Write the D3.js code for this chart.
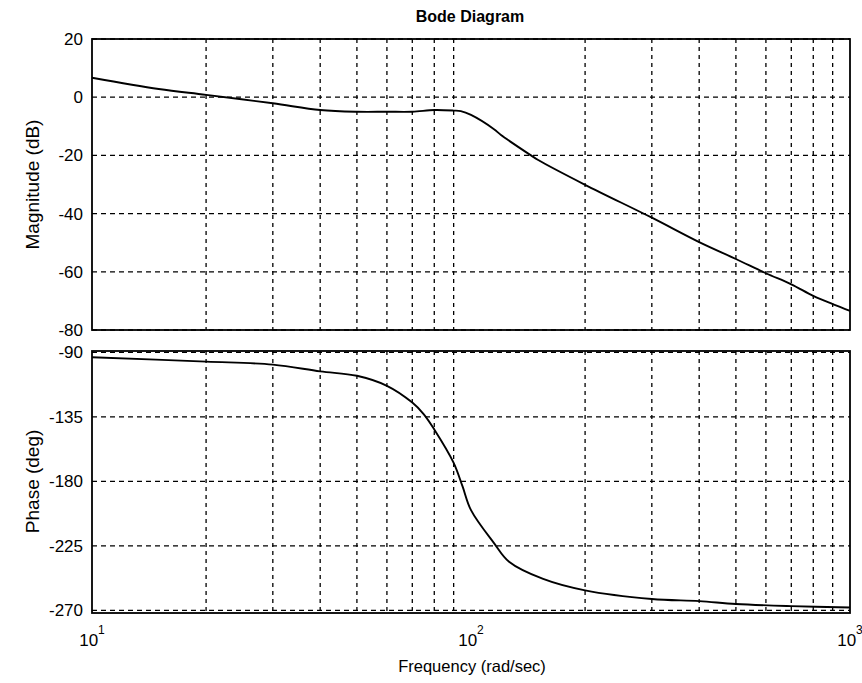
<!DOCTYPE html>
<html>
<head>
<meta charset="utf-8">
<script src="https://cdn.jsdelivr.net/npm/d3@7"></script>
<style>
  body { margin: 0; background: #fff; }
  text { font-family: "Liberation Sans", Arial, sans-serif; fill: #000; }
</style>
</head>
<body>
<svg></svg>
<script>
// magnitude
let magFreq = [10, 15, 20, 30, 40, 50, 60, 70, 80, 90, 94, 100, 115, 120, 144, 150, 200, 300, 400, 500, 600, 700, 800, 900, 1000]
let magDb = [6.7, 2.8, 0.8, -2.1, -4.4, -5.0, -5.0, -5.0, -4.4, -4.6, -4.8, -6.1, -11, -13, -20, -21.5, -30.1, -41.4, -49.8, -55.6, -60.5, -64.3, -68.3, -71.1, -73.4]

// phase
let phaseFreq = [10, 20, 30, 40, 50, 60, 70, 75, 80, 90, 95, 100, 115, 126, 155, 200, 300, 400, 500, 700, 1000]
let phaseDeg = [-93.4, -96.4, -98.5, -103.2, -106.3, -113.3, -125, -133, -143.7, -167, -183.5, -200, -223, -236, -248, -256, -262, -263.5, -265.5, -267, -268]

let magTicks = [20, 0, -20, -40, -60, -80]
let phaseTicks = [-90, -135, -180, -225, -270]
let decades = [1, 2, 3]

let width = 862
let height = 683
let left = 92
let right = 850

let svg = d3.select('svg')
    .attr("width", width)
    .attr("height", height)

let xScale = d3.scaleLog()
    .domain([10, 1000])
    .range([left, right])

let yMag = d3.scaleLinear()
    .domain([-80, 20])
    .range([330, 39])

let yPhase = d3.scaleLinear()
    .domain([-271.8, -89])
    .range([613, 351])

// minor + major frequencies for the vertical grid
let gridFreq = []
for (let d = 10; d < 1000; d *= 10) {
    for (let k = 2; k <= 9; k++) gridFreq.push(d * k)
}

let drawPanel = (yScale, ticks, freqs, vals) => {
    let g = svg.append('g')
    let [y0, y1] = yScale.range()

    g.selectAll('line.v')
        .data(gridFreq)
        .enter()
        .append('line')
        .attr('x1', d => xScale(d))
        .attr('x2', d => xScale(d))
        .attr('y1', y1)
        .attr('y2', y0)
        .attr('stroke', '#000')
        .attr('stroke-width', 1.3)
        .attr('stroke-dasharray', '4,4')

    g.selectAll('line.h')
        .data(ticks)
        .enter()
        .append('line')
        .attr('x1', left)
        .attr('x2', right)
        .attr('y1', d => yScale(d))
        .attr('y2', d => yScale(d))
        .attr('stroke', '#000')
        .attr('stroke-width', 1.3)
        .attr('stroke-dasharray', '5,4')

    let yAxis = d3.axisLeft(yScale)
        .tickValues(ticks)
        .tickSize(0)
        .tickPadding(9)
        .tickFormat(d => String(d))

    g.append('g')
        .attr('transform', 'translate(' + left + ',0)')
        .call(yAxis)
        .call(a => a.select('.domain').remove())
        .selectAll('text')
        .style('font-size', '17px')
        .style('font-family', '"Liberation Sans", Arial, sans-serif')

    let line = d3.line()
        .x((d, i) => xScale(freqs[i]))
        .y(d => yScale(d))
        .curve(d3.curveCatmullRom.alpha(0.5))

    g.append('path')
        .datum(vals)
        .attr('d', line)
        .attr('fill', 'none')
        .attr('stroke', '#000')
        .attr('stroke-width', 1.9)

    g.append('rect')
        .attr('x', left)
        .attr('y', y1)
        .attr('width', right - left)
        .attr('height', y0 - y1)
        .attr('fill', 'none')
        .attr('stroke', '#000')
        .attr('stroke-width', 1.8)
}

drawPanel(yMag, magTicks, magFreq, magDb)
drawPanel(yPhase, phaseTicks, phaseFreq, phaseDeg)

// decade labels 10^n under the phase panel
let xl = svg.selectAll('text.dec')
    .data(decades)
    .enter()
    .append('text')
    .attr('x', d => xScale(Math.pow(10, d)))
    .attr('y', 646)
    .attr('text-anchor', 'middle')
    .style('font-size', '17px')
xl.append('tspan').text('10')
xl.append('tspan')
    .attr('dy', -12)
    .style('font-size', '12px')
    .text(d => d)

svg.append('text')
    .attr('x', 470)
    .attr('y', 22)
    .attr('text-anchor', 'middle')
    .style('font-size', '16px')
    .style('font-weight', 'bold')
    .text('Bode Diagram')

svg.append('text')
    .attr('x', 472)
    .attr('y', 672)
    .attr('text-anchor', 'middle')
    .style('font-size', '16.5px')
    .text('Frequency  (rad/sec)')

svg.append('text')
    .attr('transform', 'translate(39,' + (yMag(-30)) + ') rotate(-90)')
    .attr('text-anchor', 'middle')
    .style('font-size', '19px')
    .text('Magnitude (dB)')

svg.append('text')
    .attr('transform', 'translate(39,' + (yPhase(-180)) + ') rotate(-90)')
    .attr('text-anchor', 'middle')
    .style('font-size', '19px')
    .text('Phase (deg)')
</script>
</body>
</html>
